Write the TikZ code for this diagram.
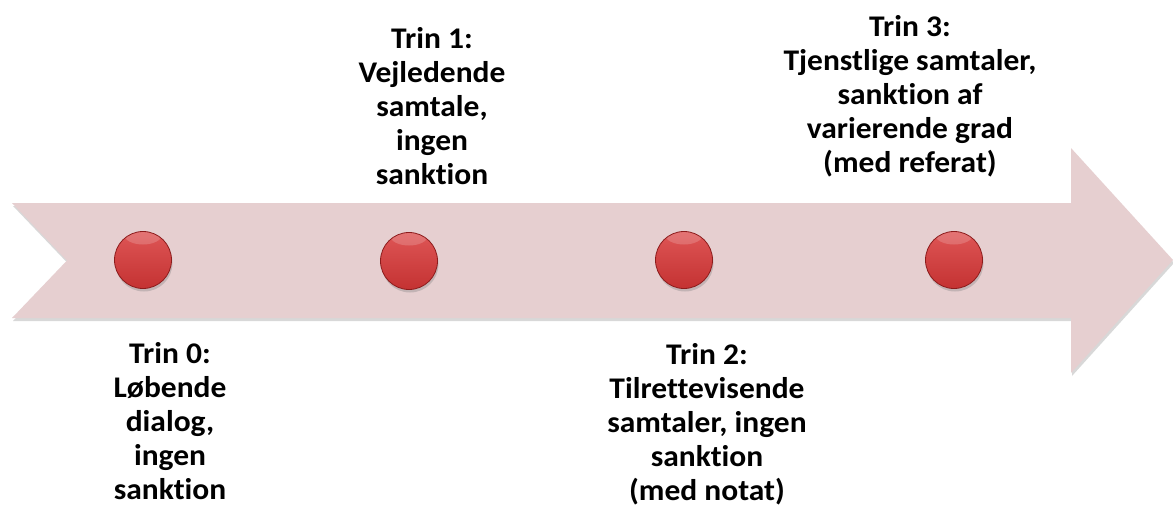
\documentclass[tikz,border=0pt]{standalone}
\usepackage{fontspec}
\setmainfont[Ligatures=NoCommon, FakeStretch=1.05]{Carlito}
\usetikzlibrary{shadows}
\definecolor{arrowpink}{RGB}{230,207,208}
\definecolor{dottop}{RGB}{222,86,86}
\definecolor{dotbot}{RGB}{196,50,50}
\definecolor{dotrim}{RGB}{140,28,28}
\begin{document}
\begin{tikzpicture}[x=1pt,y=-1pt,
  dot/.style={circle, minimum size=57pt, inner sep=0pt, draw=dotrim, line width=0.8pt,
    top color=dottop, bottom color=dotbot,
    drop shadow={opacity=0.35, shadow xshift=1pt, shadow yshift=-3pt},
    path picture={\fill[white, opacity=0.18] ([yshift=-3pt]path picture bounding box.north)
      ellipse [x radius=19pt, y radius=10pt];}},
  lbl/.style={align=center, anchor=north, inner sep=0pt,
    font=\fontsize{30}{34}\selectfont\bfseries}]
\useasboundingbox (0,0) rectangle (1173,506);
\fill[white] (0,0) rectangle (1173,506);
\fill[arrowpink, drop shadow={opacity=0.3, shadow xshift=1pt, shadow yshift=-3pt}]
  (12,203) -- (1071,203) -- (1071,148) -- (1173,260) -- (1071,373) -- (1071,318)
  -- (12,318) -- (67,260.5) -- cycle;
\node[dot] (d0) at (143,260) {};
\node[dot] (d1) at (409,261) {};
\node[dot] (d2) at (684,260) {};
\node[dot] (d3) at (954,260) {};
\node[lbl] (t0) at (170,342) {Trin 0:\\Løbende\\dialog,\\ingen\\sanktion};
\node[lbl] (t1) at (432,27) {Trin 1:\\Vejledende\\samtale,\\ingen\\sanktion};
\node[lbl] (t2) at (707,343) {Trin 2:\\Tilrettevisende\\samtaler, ingen\\sanktion\\(med notat)};
\node[lbl] (t3) at (910,15) {Trin 3:\\Tjenstlige samtaler,\\sanktion af\\varierende grad\\(med referat)};
\end{tikzpicture}
\end{document}
